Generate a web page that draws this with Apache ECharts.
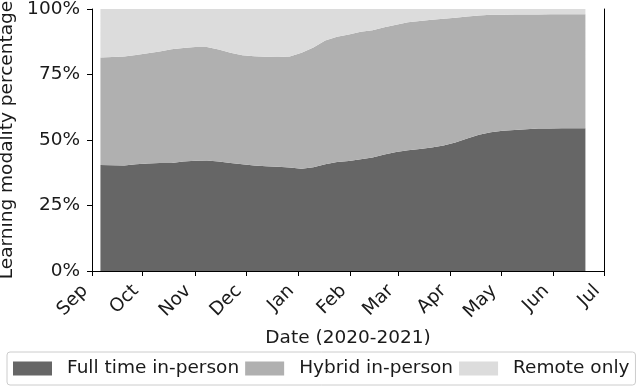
<!DOCTYPE html>
<html>
<head>
<meta charset="utf-8">
<script src="https://cdn.jsdelivr.net/npm/echarts@6/dist/echarts.min.js"></script>
<style>
  html, body { margin: 0; padding: 0; background: #fff; }
  #app { width: 640px; height: 389px; }
</style>
</head>
<body>
<div id="app"></div>
<script>
// weekly dates, Sep 6 2020 .. Jun 20 2021
const weeks = []
for (let d = new Date(Date.UTC(2020, 8, 6)); d <= new Date(Date.UTC(2021, 5, 20)); d = new Date(d.getTime() + 7 * 86400000)) {
  weeks.push(d.toISOString().slice(0, 10))
}

const fullTime = [40.5, 40.4, 40.3, 40.7, 41.0, 41.2, 41.2, 41.8, 42.1, 42.2, 41.8, 41.2, 40.7, 40.3,
  40.0, 39.8, 39.5, 39.0, 39.6, 40.7, 41.6, 42.0, 42.7, 43.3, 44.5, 45.4, 46.1, 46.6,
  47.1, 47.9, 49.0, 50.6, 52.0, 53.0, 53.5, 53.8, 54.1, 54.4, 54.4, 54.5, 54.5, 54.5]
const hybrid = [41.0, 41.3, 41.6, 41.7, 42.1, 42.6, 43.4, 43.3, 43.4, 43.3, 42.7, 42.1, 41.6, 41.7,
  41.8, 41.9, 42.4, 44.3, 45.7, 47.3, 47.8, 48.3, 48.6, 48.6, 48.5, 48.6, 48.8, 48.8,
  48.8, 48.4, 47.7, 46.5, 45.5, 44.8, 44.3, 44.1, 43.8, 43.5, 43.6, 43.5, 43.5, 43.5]
const remote = [18.5, 18.3, 18.1, 17.6, 16.9, 16.2, 15.4, 14.9, 14.5, 14.5, 15.5, 16.7, 17.7, 18.0,
  18.2, 18.3, 18.1, 16.7, 14.7, 12.0, 10.6, 9.7, 8.7, 8.1, 7.0, 6.0, 5.1, 4.6,
  4.1, 3.7, 3.3, 2.9, 2.5, 2.2, 2.2, 2.1, 2.1, 2.1, 2.0, 2.0, 2.0, 2.0]
const seriesNames = ['Full time in-person', 'Hybrid in-person', 'Remote only']
const monthNames = ['Jan', 'Feb', 'Mar', 'Apr', 'May', 'Jun', 'Jul', 'Aug', 'Sep', 'Oct', 'Nov', 'Dec']

const font = 'DejaVu Sans'
const fs = 18.5
const colors = ['#666666', '#b0b0b0', '#dcdcdc']

function areaSeries(name, values, color) {
  return {
    name: name,
    type: 'line',
    stack: 'total',
    showSymbol: false,
    lineStyle: { width: 0 },
    areaStyle: { color: color, opacity: 1 },
    itemStyle: { color: color },
    data: weeks.map((w, i) => [w, values[i]]),
  }
}

const myChart = echarts.init(document.getElementById('app'))
myChart.setOption({
  animation: false,
  textStyle: { fontFamily: font },
  grid: { left: 92, right: 36, top: 9, bottom: 118, outerBoundsMode: 'none', containLabel: false },
  legend: {
    left: 7,
    top: 352,
    padding: [7, 6, 7, 6],
    itemGap: 6,
    itemWidth: 39,
    itemHeight: 14,
    icon: 'rect',
    borderColor: '#cccccc',
    borderWidth: 1,
    borderRadius: 3,
    textStyle: { fontSize: fs, color: '#1a1a1a', fontFamily: font, padding: [0, 0, 0, 10] },
    data: seriesNames,
  },
  xAxis: [
    {
      type: 'time',
      min: '2020-09-01',
      max: '2021-07-01',
      minInterval: 28 * 86400000,
      maxInterval: 31 * 86400000,
      z: 10,
      name: 'Date (2020-2021)',
      nameLocation: 'middle',
      nameGap: 56,
      nameTextStyle: { fontSize: fs, color: '#1a1a1a' },
      axisLine: { show: true, lineStyle: { color: '#000', width: 1 } },
      axisTick: { show: true, length: 5, lineStyle: { color: '#000' } },
      splitLine: { show: false },
      axisLabel: {
        rotate: 45,
        fontSize: fs,
        color: '#1a1a1a',
        margin: 10,
        padding: [0, 10, 0, 0],
        hideOverlap: false,
        formatter: (v) => monthNames[new Date(v).getUTCMonth()],
      },
    },
    {
      type: 'time',
      position: 'top',
      min: '2020-09-01',
      max: '2021-07-01',
      z: 10,
      axisLine: { show: true, lineStyle: { color: '#000', width: 1 } },
      axisTick: { show: false },
      axisLabel: { show: false },
      splitLine: { show: false },
    },
  ],
  yAxis: [
    {
      type: 'value',
      min: 0,
      max: 100,
      interval: 25,
      z: 10,
      name: 'Learning modality percentage',
      nameLocation: 'middle',
      nameGap: 72,
      nameTextStyle: { fontSize: fs, color: '#1a1a1a' },
      axisLine: { show: true, lineStyle: { color: '#000', width: 1 } },
      axisTick: { show: true, length: 5, lineStyle: { color: '#000' } },
      splitLine: { show: false },
      axisLabel: { fontSize: fs, color: '#1a1a1a', margin: 12, formatter: '{value}%' },
    },
    {
      type: 'value',
      position: 'right',
      min: 0,
      max: 100,
      interval: 25,
      z: 10,
      axisLine: { show: true, lineStyle: { color: '#000', width: 1 } },
      axisTick: { show: false },
      axisLabel: { show: false },
      splitLine: { show: false },
    },
  ],
  series: [
    areaSeries(seriesNames[0], fullTime, colors[0]),
    areaSeries(seriesNames[1], hybrid, colors[1]),
    areaSeries(seriesNames[2], remote, colors[2]),
  ],
})
</script>
</body>
</html>
